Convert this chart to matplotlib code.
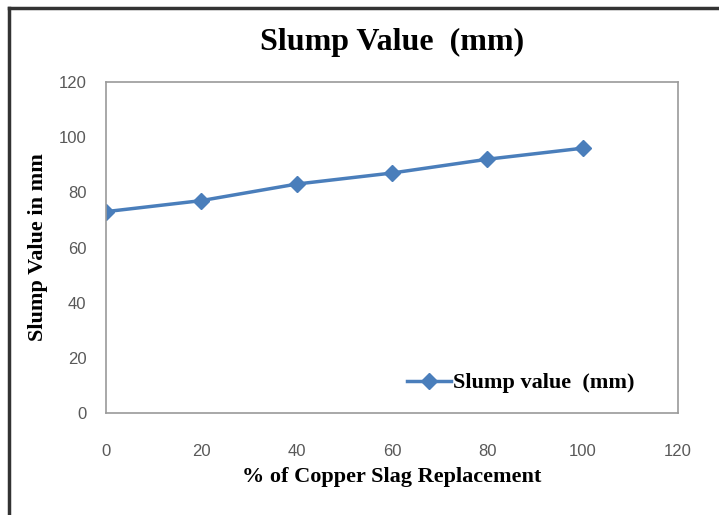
import matplotlib
matplotlib.use("Agg")
import matplotlib.pyplot as plt
from matplotlib.lines import Line2D

replacement = [0, 20, 40, 60, 80, 100]
slump = [73, 77, 83, 87, 92, 96]
x_ticks = [0, 20, 40, 60, 80, 100, 120]
y_ticks = [0, 20, 40, 60, 80, 100, 120]

fig = plt.figure(figsize=(7.19, 5.15), dpi=100)
ax = fig.add_axes([106/719, 1-413/515, (678-106)/719, (413-82)/515])

line_color = "#4A7EBB"
ax.plot(replacement, slump, color=line_color, lw=2.5, marker="D", markersize=8,
        markerfacecolor=line_color, markeredgecolor=line_color,
        label="Slump value  (mm)")

ax.set_xlim(0, 120)
ax.set_ylim(0, 120)
ax.set_xticks(x_ticks)
ax.set_yticks(y_ticks)
ax.tick_params(length=0, labelsize=12, labelcolor="#595959")
ax.tick_params(axis="x", pad=22)
ax.tick_params(axis="y", pad=14)
for lab in ax.get_xticklabels() + ax.get_yticklabels():
    lab.set_family(["Liberation Sans", "DejaVu Sans"])
for s in ax.spines.values():
    s.set_color("#9a9a9a")
    s.set_linewidth(1.2)

serif = ["Liberation Serif", "DejaVu Serif"]
fig.text(392/719, 1-42/515, "Slump Value  (mm)", ha="center", va="center",
         fontsize=23, fontweight="bold", family=serif)
ax.set_xlabel("% of Copper Slag Replacement", fontsize=16, fontweight="bold",
              family=serif, labelpad=6)
ax.set_ylabel("Slump Value in mm", fontsize=16, fontweight="bold",
              family=serif, labelpad=8)

leg = ax.legend(loc="center right", frameon=False,
                prop={"family": serif, "size": 16, "weight": "bold"},
                handlelength=2.0, handletextpad=0.1, borderaxespad=0,
                bbox_to_anchor=(0.94, 0.09))

# figure border (left and top)
fig.add_artist(Line2D([9/719, 9/719], [0, 1-8/515], transform=fig.transFigure, color="#333333", lw=2.5))
fig.add_artist(Line2D([9/719, 1], [1-8/515, 1-8/515], transform=fig.transFigure, color="#333333", lw=2.5))

fig.savefig("out.png", dpi=100)
